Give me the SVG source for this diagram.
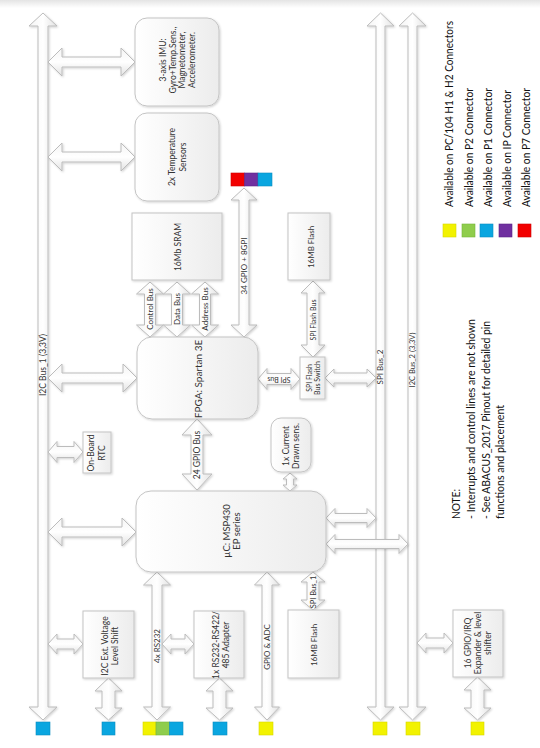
<svg xmlns="http://www.w3.org/2000/svg" width="540" height="748" viewBox="0 0 540 748">
<defs>
<linearGradient id="gtop" x1="0" y1="0" x2="0" y2="1"><stop offset="0" stop-color="#e4e4e4"/><stop offset="1" stop-color="#ffffff"/></linearGradient>
<linearGradient id="gbox" x1="0" y1="0" x2="1" y2="0"><stop offset="0" stop-color="#ffffff"/><stop offset="1" stop-color="#ececec"/></linearGradient>
<linearGradient id="gav" x1="0" y1="0" x2="1" y2="0"><stop offset="0" stop-color="#f4f4f4"/><stop offset="0.5" stop-color="#ffffff"/><stop offset="1" stop-color="#e2e2e2"/></linearGradient>
<linearGradient id="gah" x1="0" y1="0" x2="0" y2="1"><stop offset="0" stop-color="#f4f4f4"/><stop offset="0.5" stop-color="#ffffff"/><stop offset="1" stop-color="#e2e2e2"/></linearGradient>
<filter id="sh" x="-10%" y="-10%" width="130%" height="130%"><feDropShadow dx="1" dy="1" stdDeviation="0.8" flood-color="#000" flood-opacity="0.18"/></filter>
</defs>
<style>
.box{fill:url(#gbox);stroke:#c4c4c4;stroke-width:1;filter:url(#sh)}
.arr{stroke:#bcbcbc;stroke-width:1;stroke-linejoin:miter;filter:url(#sh)}
.av{fill:url(#gav)}
.ah{fill:url(#gah)}
.t{font-family:Lato,"Liberation Sans",sans-serif;fill:#333;text-anchor:middle}
.lg{font-family:Lato,"Liberation Sans",sans-serif;fill:#111;font-size:11px}
.y{fill:#f2f200;stroke:#d6d600;stroke-width:0.6}
.g{fill:#8fcd4c;stroke:#76b43a;stroke-width:0.6}
.b{fill:#0aa6e0;stroke:#0a8cc0;stroke-width:0.6}
.p{fill:#7030a0;stroke:#5c2688;stroke-width:0.6}
.r{fill:#f20000;stroke:#cc0000;stroke-width:0.6}
</style>
<rect x="0" y="0" width="540" height="748" fill="#ffffff"/>
<rect x="0" y="0" width="540" height="8" fill="url(#gtop)"/>

<g id="connectors">
<path class="arr av" d="M43,13 L57,26 L48,26 L48,707 L57,707 L43,720 L29,707 L38,707 L38,26 L29,26 Z"/>
<path class="arr av" d="M380.5,13 L394,26 L385,26 L385,707 L394,707 L380.5,720 L367,707 L376,707 L376,26 L367,26 Z"/>
<path class="arr av" d="M412.5,13 L426,26 L417,26 L417,707 L426,707 L412.5,720 L399,707 L408,707 L408,26 L399,26 Z"/>
<path class="arr ah" d="M48,62 L62,48 L62,57 L121,57 L121,48 L135,62 L121,76 L121,67 L62,67 L62,76 Z"/>
<path class="arr ah" d="M48,157 L62,143 L62,152 L121,152 L121,143 L135,157 L121,171 L121,162 L62,162 L62,171 Z"/>
<path class="arr ah" d="M48,378 L62,364 L62,373 L123,373 L123,364 L137,378 L123,392 L123,383 L62,383 L62,392 Z"/>
<path class="arr ah" d="M48,532 L62,518 L62,527 L122,527 L122,518 L136,532 L122,546 L122,537 L62,537 L62,546 Z"/>
<path class="arr ah" d="M48,452 L57,441.5 L57,446.5 L74,446.5 L74,441.5 L83,452 L74,462.5 L74,457.5 L57,457.5 L57,462.5 Z"/>
<path class="arr ah" d="M48,644 L57,634 L57,639 L74,639 L74,634 L83,644 L74,654 L74,649 L57,649 L57,654 Z"/>
<path class="arr av" d="M157,572 L170.5,585 L162,585 L162,707 L170.5,707 L157,720 L143.5,707 L152,707 L152,585 L143.5,585 Z"/>
<path class="arr ah" d="M162,644 L171,634 L171,639 L185,639 L185,634 L194,644 L185,654 L185,649 L171,649 L171,654 Z"/>
<path class="arr ah" d="M417,643 L426,633 L426,638 L444,638 L444,633 L453,643 L444,653 L444,648 L426,648 L426,653 Z"/>
<path class="arr ah" d="M258,379 L267,368.5 L267,373.5 L291,373.5 L291,368.5 L300,379 L291,389.5 L291,384.5 L267,384.5 L267,389.5 Z"/>
<path class="arr ah" d="M325,378 L334,369 L334,373 L367,373 L367,369 L376,378 L367,387 L367,383 L334,383 L334,387 Z"/>
<path class="arr ah" d="M326,544 L335,534.5 L335,539.5 L399,539.5 L399,534.5 L408,544 L399,553.5 L399,548.5 L335,548.5 L335,553.5 Z"/>
<path class="arr ah" d="M326,518 L335,508.5 L335,513.5 L367,513.5 L367,508.5 L376,518 L367,527.5 L367,522.5 L335,522.5 L335,527.5 Z"/>
<path class="arr av" d="M244,188 L257,200 L249,200 L249,325 L257,325 L244,337 L231,325 L239,325 L239,200 L231,200 Z"/>
<path class="arr av" d="M150,282 L163.5,294 L155.5,294 L155.5,325 L163.5,325 L150,337 L136.5,325 L144.5,325 L144.5,294 L136.5,294 Z"/>
<path class="arr av" d="M177,282 L190.5,294 L182.5,294 L182.5,325 L190.5,325 L177,337 L163.5,325 L171.5,325 L171.5,294 L163.5,294 Z"/>
<path class="arr av" d="M205,282 L218.5,294 L210.5,294 L210.5,325 L218.5,325 L205,337 L191.5,325 L199.5,325 L199.5,294 L191.5,294 Z"/>
<path class="arr av" d="M197,419 L212,435 L203,435 L203,474 L212,474 L197,490 L182,474 L191,474 L191,435 L182,435 Z"/>
<path class="arr av" d="M290,473 L297,479 L293.5,479 L293.5,485 L297,485 L290,491 L283,485 L286.5,485 L286.5,479 L283,479 Z"/>
<path class="arr av" d="M313,281 L325,293 L319,293 L319,345 L325,345 L313,357 L301,345 L307,345 L307,293 L301,293 Z"/>
<path class="arr av" d="M313,572 L325,582 L319,582 L319,600 L325,600 L313,610 L301,600 L307,600 L307,582 L301,582 Z"/>
<path class="arr av" d="M267,572 L279.5,585 L272,585 L272,707 L279.5,707 L267,720 L254.5,707 L262,707 L262,585 L254.5,585 Z"/>
<path class="arr av" d="M108.5,678 L122,691 L115,691 L115,708 L122,708 L108.5,720 L95,708 L102,708 L102,691 L95,691 Z"/>
<path class="arr av" d="M219.5,678 L233,691 L226,691 L226,708 L233,708 L219.5,720 L206,708 L213,708 L213,691 L206,691 Z"/>
<path class="arr av" d="M477.5,677 L491,690 L484,690 L484,708 L491,708 L477.5,720 L464,708 L471,708 L471,690 L464,690 Z"/>
<text class="t" font-size="8.5" transform="translate(46,365) rotate(-90)">I2C Bus_1 (3,3V)</text>
<text class="t" font-size="8" transform="translate(383.3,367) rotate(-90)">SPI Bus_2</text>
<text class="t" font-size="7.5" transform="translate(415.1,360) rotate(-90)">I2C Bus_2 (3,3V)</text>
<text class="t" font-size="8" transform="translate(247,266) rotate(-90)">34 GPIO + 8GPI</text>
<text class="t" font-size="8" transform="translate(153,309) rotate(-90)">Control Bus</text>
<text class="t" font-size="8" transform="translate(180,309) rotate(-90)">Data Bus</text>
<text class="t" font-size="8" transform="translate(208,309) rotate(-90)">Address Bus</text>
<text class="t" font-size="8.5" transform="translate(200,455) rotate(-90)">24 GPIO Bus</text>
<text class="t" font-size="7" transform="translate(315.5,320) rotate(-90)">SPI Flash Bus</text>
<text class="t" font-size="7" transform="translate(279,376.5) rotate(180)">SPI Bus</text>
<text class="t" font-size="7.5" transform="translate(315.6,592) rotate(-90)">SPI Bus_1</text>
<text class="t" font-size="8" transform="translate(159.8,646) rotate(-90)">4x RS232</text>
<text class="t" font-size="8" transform="translate(269.8,647) rotate(-90)">GPIO &amp; ADC</text>
</g>

<g id="imu">
<rect class="box" x="135" y="18" width="84" height="88" rx="12"/>
<text class="t" font-size="8.5" transform="translate(166,60) rotate(-90)">3-axis IMU:</text>
<text class="t" font-size="8.5" transform="translate(175.5,60) rotate(-90)">Gyro+Temp.Sens.,</text>
<text class="t" font-size="8.5" transform="translate(185,60) rotate(-90)">Magnetometer,</text>
<text class="t" font-size="8.5" transform="translate(194.5,60) rotate(-90)">Accelerometer.</text>
</g>
<g id="temp">
<rect class="box" x="135" y="113" width="84" height="88" rx="12"/>
<text class="t" font-size="8.5" transform="translate(174.5,157) rotate(-90)">2x Temperature</text>
<text class="t" font-size="8.5" transform="translate(185.5,157) rotate(-90)">Sensors</text>
</g>
<g id="sram">
<rect class="box" x="132" y="213" width="90" height="67"/>
<text class="t" font-size="8.5" transform="translate(181,247) rotate(-90)">16Mb SRAM</text>
</g>
<g id="flash-top">
<rect class="box" x="288" y="213" width="42" height="67"/>
<text class="t" font-size="8" transform="translate(314,247) rotate(-90)">16MB Flash</text>
</g>
<g id="fpga">
<rect class="box" x="137" y="337" width="121" height="82" rx="15"/>
<text class="t" font-size="10" transform="translate(201.5,379) rotate(-90)">FPGA: Spartan 3E</text>
</g>
<g id="spi-switch">
<rect class="box" x="300" y="357" width="25" height="42"/>
<text class="t" font-size="7" transform="translate(312,378) rotate(-90)">SPI Flash</text>
<text class="t" font-size="7" transform="translate(320,378) rotate(-90)">Bus Switch</text>
</g>
<g id="rtc">
<rect class="box" x="83" y="432" width="28" height="41"/>
<text class="t" font-size="8.5" transform="translate(93.5,453) rotate(-90)">On-Board</text>
<text class="t" font-size="8.5" transform="translate(104.5,453) rotate(-90)">RTC</text>
</g>
<g id="current">
<rect class="box" x="271" y="418" width="40" height="54" rx="10"/>
<text class="t" font-size="8.5" transform="translate(289,446) rotate(-90)">1x Current</text>
<text class="t" font-size="8.5" transform="translate(298.5,446) rotate(-90)">Drawn sens.</text>
</g>
<g id="msp430">
<rect class="box" x="136" y="491" width="190" height="81" rx="15"/>
<text class="t" font-size="9.5" transform="translate(230.3,531) rotate(-90)">µC: MSP430</text>
<text class="t" font-size="9.5" transform="translate(240,531) rotate(-90)">EP series</text>
</g>
<g id="i2c-shift">
<rect class="box" x="83" y="611" width="51" height="67"/>
<text class="t" font-size="8.5" transform="translate(107.5,646) rotate(-90)">I2C Ext. Voltage</text>
<text class="t" font-size="8.5" transform="translate(117.5,646) rotate(-90)">Level Shift</text>
</g>
<g id="rs-adapter">
<rect class="box" x="194" y="611" width="50" height="67"/>
<text class="t" font-size="8.5" transform="translate(219,645) rotate(-90)">1x RS232-RS422/</text>
<text class="t" font-size="8.5" transform="translate(229,645) rotate(-90)">485 Adapter</text>
</g>
<g id="flash-bottom">
<rect class="box" x="288" y="610" width="51" height="68"/>
<text class="t" font-size="8" transform="translate(317,645) rotate(-90)">16MB Flash</text>
</g>
<g id="expander">
<rect class="box" x="453" y="610" width="50" height="67"/>
<text class="t" font-size="8.5" transform="translate(470.5,643) rotate(-90)">16 GPIO/IRQ</text>
<text class="t" font-size="8.5" transform="translate(480.5,643) rotate(-90)">Expander &amp; level</text>
<text class="t" font-size="8.5" transform="translate(490.5,643) rotate(-90)">shifter</text>
</g>

<g id="ports">
<rect class="r" x="231" y="173" width="13.5" height="13"/>
<rect class="p" x="244.5" y="173" width="13.5" height="13"/>
<rect class="b" x="258" y="173" width="14" height="13"/>
<rect class="b" x="36" y="722" width="14" height="13"/>
<rect class="b" x="102" y="722" width="13" height="13"/>
<rect class="y" x="143" y="722" width="13" height="13"/>
<rect class="g" x="156" y="722" width="13.5" height="13"/>
<rect class="b" x="169.5" y="722" width="13.5" height="13"/>
<rect class="b" x="213" y="722" width="14" height="13"/>
<rect class="y" x="259" y="722" width="14" height="13"/>
<rect class="y" x="373" y="722" width="14" height="13"/>
<rect class="y" x="406" y="722" width="14" height="13"/>
<rect class="y" x="471" y="722" width="13" height="13"/>
</g>

<g id="legend">
<rect class="y" x="443" y="224" width="13" height="13"/>
<rect class="g" x="462" y="224" width="13" height="13"/>
<rect class="b" x="480" y="224" width="13" height="13"/>
<rect class="p" x="499" y="224" width="13" height="13"/>
<rect class="r" x="518" y="224" width="13" height="13"/>
<text class="lg" textLength="186" lengthAdjust="spacingAndGlyphs" transform="translate(452.5,207) rotate(-90)">Available on PC/104 H1 &amp; H2 Connectors</text>
<text class="lg" textLength="119" lengthAdjust="spacingAndGlyphs" transform="translate(472.5,207) rotate(-90)">Available on P2 Connector</text>
<text class="lg" textLength="119" lengthAdjust="spacingAndGlyphs" transform="translate(491.5,207) rotate(-90)">Available on P1 Connector</text>
<text class="lg" textLength="117" lengthAdjust="spacingAndGlyphs" transform="translate(510.5,207) rotate(-90)">Available on IP Connector</text>
<text class="lg" textLength="119" lengthAdjust="spacingAndGlyphs" transform="translate(529.5,207) rotate(-90)">Available on P7 Connector</text>
</g>

<g id="note">
<text class="lg" textLength="30" lengthAdjust="spacingAndGlyphs" transform="translate(460,519) rotate(-90)">NOTE:</text>
<text class="lg" textLength="200" lengthAdjust="spacingAndGlyphs" transform="translate(475,519) rotate(-90)">- Interrupts and control lines are not shown</text>
<text class="lg" textLength="198" lengthAdjust="spacingAndGlyphs" transform="translate(489.5,519) rotate(-90)">- See ABACUS_2017 Pinout for detailed pin</text>
<text class="lg" textLength="114" lengthAdjust="spacingAndGlyphs" transform="translate(504,519) rotate(-90)">functions and placement</text>
</g>
</svg>
